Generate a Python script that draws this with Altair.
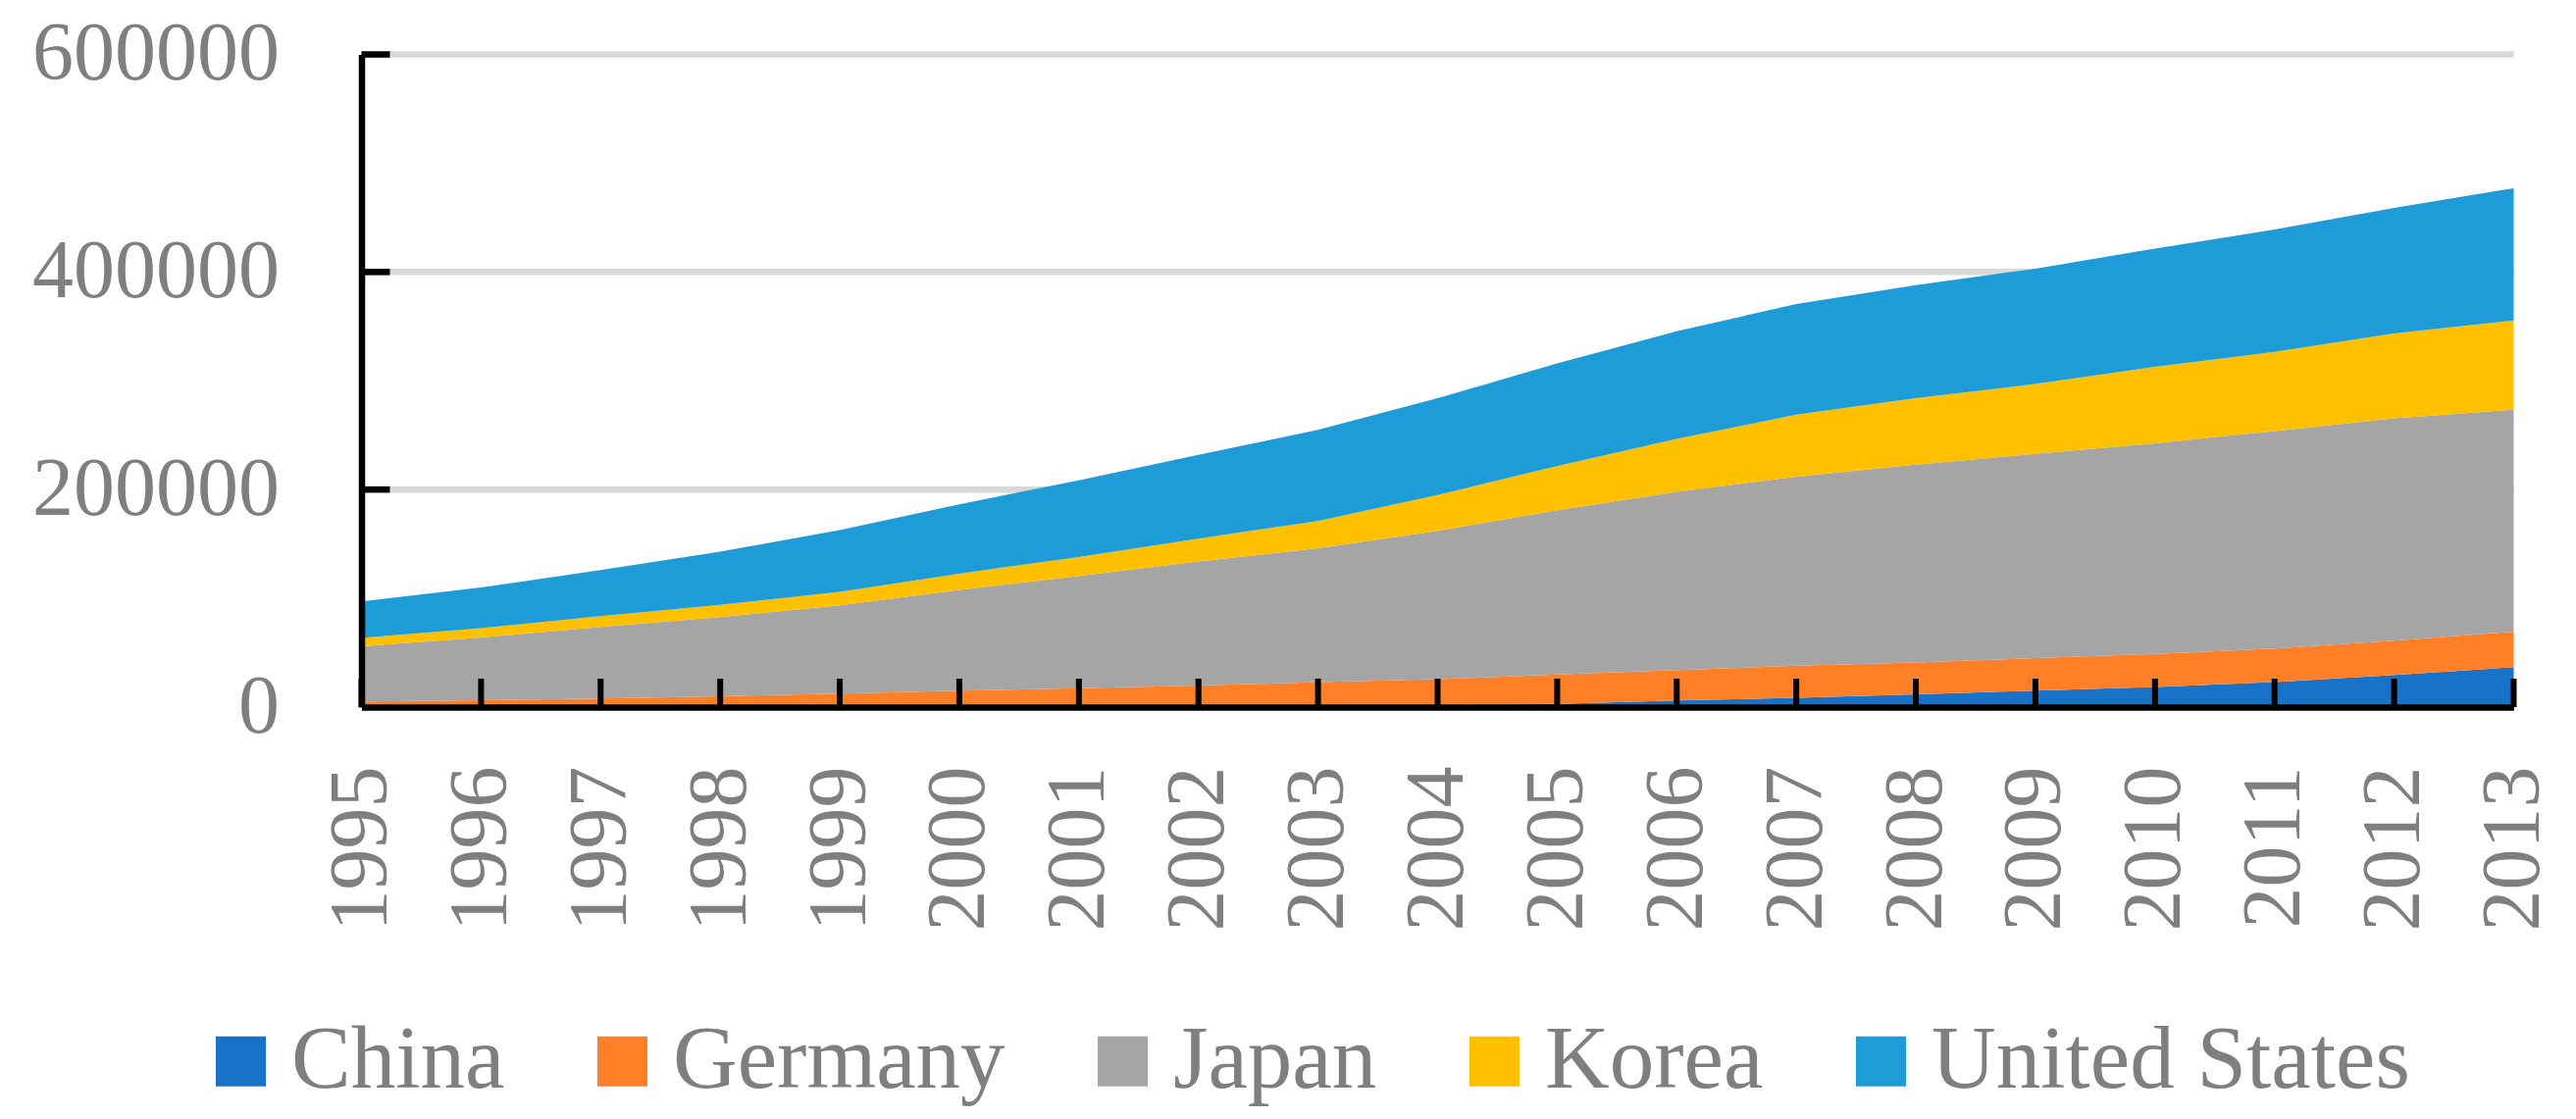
import altair as alt
import pandas as pd

years = list(range(1995, 2014))
countries = ["China", "Germany", "Japan", "Korea", "United States"]
colors = ["#1872C8", "#FF7F27", "#A5A5A5", "#FFC000", "#1E9CD7"]

china = [200, 200, 300, 300, 300, 400, 500, 600, 800, 1300, 3000, 6000, 8500,
         11800, 15000, 18400, 23000, 29500, 36700]
germany = [4900, 6100, 7500, 9700, 12000, 14600, 16900, 19200, 22100, 24300,
           27000, 28000, 29500, 29200, 30000, 30600, 30800, 31500, 32800]
japan = [50800, 57700, 65900, 72700, 81200, 92700, 103200, 114000, 123100,
         136400, 151000, 164000, 173800, 182000, 187800, 193600, 200000,
         204600, 203900]
korea = [7600, 8500, 9900, 11300, 12500, 15000, 17400, 21100, 25000, 33000,
         40600, 48500, 57000, 61000, 64200, 70200, 72700, 78000, 82000]
usa = [33600, 37500, 42400, 48900, 56700, 63800, 70400, 77000, 84000, 89000,
       94400, 99100, 101700, 104000, 106000, 108800, 112500, 115400, 121600]
y_ticks = [0, 200000, 400000, 600000]

series = [china, germany, japan, korea, usa]
rows = []
for i, (name, vals) in enumerate(zip(countries, series)):
    for yr, v in zip(years, vals):
        rows.append({"year": yr, "country": name, "value": v, "ord": i})
df = pd.DataFrame(rows)

xt_df = pd.DataFrame({"year": years, "v": [0] * len(years)})
yt_df = pd.DataFrame({"year": [years[0]] * (len(y_ticks) - 1), "v": y_ticks[1:]})

FONT = "Liberation Serif"
GRAY = "#7F7F7F"

x_scale = alt.Scale(domain=[years[0], years[-1]], nice=False, zero=False)
y_scale = alt.Scale(domain=[y_ticks[0], y_ticks[-1]], nice=False)

x_axis = alt.Axis(values=years, format="d", labelAngle=270, labelFont=FONT,
                  labelFontSize=84, labelColor=GRAY, labelPadding=60,
                  ticks=False, tickSize=0, grid=False, domainColor="black",
                  domainWidth=6.5, title=None, zindex=1, labelOverlap=False,
                  labelFlush=False, labelLimit=0)
y_axis = alt.Axis(values=y_ticks, format="d", labelFont=FONT,
                  labelFontSize=84, labelColor=GRAY, labelPadding=84,
                  ticks=False, tickSize=0, grid=False, domainColor="black",
                  domainWidth=6.5, title=None, zindex=1, labelOverlap=False,
                  labelFlush=False, labelLimit=0)

grid = alt.Chart(yt_df).mark_rule(color="#D9D9D9", strokeWidth=6.5).encode(
    y=alt.Y("v:Q", scale=y_scale, axis=y_axis),
)

area = alt.Chart(df).mark_area(opacity=1, interpolate="linear").encode(
    x=alt.X("year:Q", scale=x_scale, axis=x_axis),
    y=alt.Y("value:Q", stack="zero", scale=y_scale, axis=y_axis),
    color=alt.Color(
        "country:N",
        scale=alt.Scale(domain=countries, range=colors),
        legend=alt.Legend(
            orient="none", legendX=-168.5, legendY=981,
            direction="horizontal", columns=5, symbolType="square",
            symbolSize=2601, symbolStrokeWidth=0, symbolOpacity=1,
            labelFont=FONT, labelFontSize=91, labelColor=GRAY,
            labelOffset=6, columnPadding=74, padding=0, title=None,
            labelLimit=0,
        ),
    ),
    order=alt.Order("ord:Q", sort="ascending"),
)

xticks = alt.Chart(xt_df).mark_tick(
    orient="vertical", color="black", thickness=6, size=29, yOffset=-14.5,
    opacity=1,
).encode(
    x=alt.X("year:Q", scale=x_scale, axis=x_axis),
    y=alt.Y("v:Q", scale=y_scale, axis=y_axis),
)

yticks = alt.Chart(yt_df).mark_tick(
    orient="horizontal", color="black", thickness=6.5, size=29, xOffset=14.5,
    opacity=1,
).encode(
    x=alt.X("year:Q", scale=x_scale, axis=x_axis),
    y=alt.Y("v:Q", scale=y_scale, axis=y_axis),
)

chart = alt.layer(grid, area, xticks, yticks).properties(
    width=2194,
    height=665.5,
    autosize=alt.AutoSizeParams(type="none"),
    padding={"left": 360.5, "top": 47.5, "right": 55, "bottom": 410},
    background="white",
).configure_view(stroke=None)

chart.save("out.html", embed_options={"renderer": "svg", "actions": False})
